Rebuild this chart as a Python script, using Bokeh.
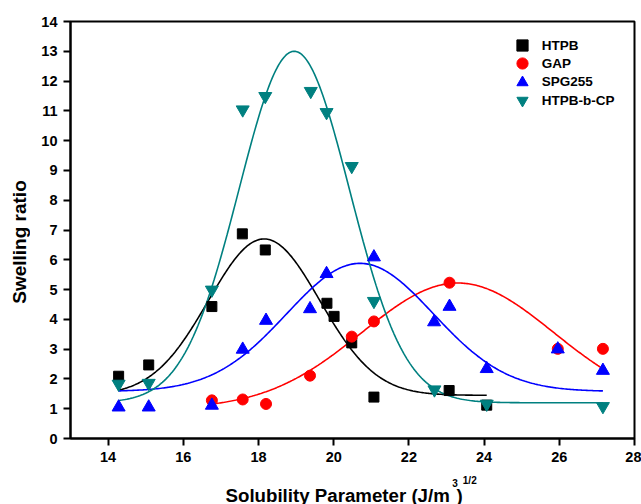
import numpy as np
from bokeh.plotting import figure
from bokeh.models import Range1d, Label, Legend, LegendItem
from bokeh.layouts import column, row
from bokeh.embed import file_html
from bokeh.resources import INLINE

# ---- data ----
htpb_x = [14.28, 15.08, 16.76, 17.57, 18.18, 19.82, 20.01, 20.48, 21.07, 23.07, 24.07]
htpb_y = [2.09, 2.47, 4.43, 6.87, 6.33, 4.54, 4.10, 3.21, 1.39, 1.61, 1.12]

gap_x = [16.76, 17.58, 18.20, 19.37, 20.48, 21.07, 23.08, 25.96, 27.16]
gap_y = [1.28, 1.31, 1.16, 2.11, 3.42, 3.93, 5.23, 3.01, 3.01]

spg_x = [14.28, 15.08, 16.76, 17.58, 18.20, 19.37, 19.81, 21.07, 22.67, 23.08, 24.07, 25.96, 27.16]
spg_y = [1.05, 1.05, 1.11, 2.99, 3.96, 4.35, 5.53, 6.09, 3.91, 4.43, 2.34, 3.00, 2.28]

cp_x = [14.28, 15.08, 16.76, 17.58, 18.18, 19.39, 19.81, 20.48, 21.07, 22.68, 24.07, 27.16]
cp_y = [1.83, 1.86, 4.99, 11.04, 11.49, 11.66, 10.95, 9.14, 4.61, 1.64, 1.16, 1.08]

# Gaussian fit parameters: y0, A, xc, sigma, x-start, x-end
htpb_fit = [1.45, 5.25, 18.15, 1.48, 14.28, 24.07]
gap_fit = [1.00, 4.22, 23.30, 2.55, 16.78, 27.16]
spg_fit = [1.58, 4.30, 20.70, 1.95, 14.28, 27.16]
cp_fit = [1.20, 11.80, 18.95, 1.47, 14.28, 27.16]

series_names = ["HTPB", "GAP", "SPG255", "HTPB-b-CP"]
x_ticks = [14, 16, 18, 20, 22, 24, 26, 28]
y_ticks = list(range(0, 15))

FONT = "Liberation Sans"


def gauss_curve(params):
    y0, a, xc, s, x0, x1 = params
    xs = np.linspace(x0, x1, 300)
    ys = y0 + a * np.exp(-((xs - xc) ** 2) / (2 * s * s))
    return xs, ys


def blank_fig(w, h):
    f = figure(width=w, height=h, output_backend="svg", toolbar_location=None,
               x_axis_location=None, y_axis_location=None,
               x_range=Range1d(0, 1), y_range=Range1d(0, 1), min_border=0)
    f.xgrid.visible = False
    f.ygrid.visible = False
    f.outline_line_color = None
    f.background_fill_color = "white"
    f.border_fill_color = "white"
    return f


# ---- main plot ----
p = figure(width=611, height=470, output_backend="svg", toolbar_location=None,
           x_range=Range1d(13, 28), y_range=Range1d(0, 14))
p.min_border_left = 40
p.min_border_right = 7
p.min_border_top = 21
p.min_border_bottom = 32

p.xgrid.visible = False
p.ygrid.visible = False
p.background_fill_color = "white"
p.border_fill_color = "white"
p.outline_line_color = "black"
p.outline_line_width = 2

for ax in (p.xaxis[0], p.yaxis[0]):
    ax.axis_line_width = 2
    ax.major_tick_line_width = 2
    ax.major_tick_out = 7
    ax.major_tick_in = 0
    ax.minor_tick_line_color = None
    ax.major_label_text_font = FONT
    ax.major_label_text_font_style = "bold"
    ax.major_label_text_font_size = "14.5px"
    ax.major_label_text_color = "black"
    ax.major_label_standoff = 6
p.xaxis.ticker = x_ticks
p.yaxis.ticker = y_ticks

colors = ["black", "#FF0000", "#0000FF", "#008080"]
fits = [htpb_fit, gap_fit, spg_fit, cp_fit]
xs_all = [htpb_x, gap_x, spg_x, cp_x]
ys_all = [htpb_y, gap_y, spg_y, cp_y]
markers = ["square", "circle", "triangle", "inverted_triangle"]
sizes = [10, 11, 13, 13]

for fit, c in zip(fits, colors):
    cx, cy = gauss_curve(fit)
    p.line(cx, cy, line_color=c, line_width=1.6)

legend_bottoms = [379, 360.7, 342.3, 324]
for name, xs, ys, c, m, s, lb in zip(series_names, xs_all, ys_all, colors, markers, sizes,
                                      legend_bottoms):
    r = p.scatter(xs, ys, marker=m, size=s, fill_color=c, line_color=c)
    lg = Legend(items=[LegendItem(label=name, renderers=[r])], location=(437.7, lb),
                glyph_width=28, glyph_height=28, label_height=18, spacing=0,
                padding=0, margin=0, label_standoff=6,
                label_text_font=FONT, label_text_font_style="bold",
                label_text_font_size="13.5px", label_text_color="black",
                border_line_color=None, background_fill_alpha=0)
    p.add_layout(lg)

# ---- y axis title strip (its frame lines up with the main frame: 21..438) ----
yfig = blank_fig(30, 470)
yfig.add_layout(Label(x=18.5, y=196.5, text="Swelling ratio", text_font_size="19px",
                      angle=np.pi / 2, text_align="center", text_baseline="middle",
                      x_units="screen", y_units="screen", text_font=FONT,
                      text_font_style="bold", text_color="black"))

# ---- x axis title strip (with superscripts) ----
xfig = blank_fig(641, 34)
common = dict(x_units="screen", y_units="screen", text_font=FONT,
              text_font_style="bold", text_color="black",
              text_align="left", text_baseline="alphabetic")
xfig.add_layout(Label(x=225, y=9.5, text="Solubility Parameter (J/m",
                      text_font_size="18.7px", **common))
xfig.add_layout(Label(x=451.7, y=21.5, text="3", text_font_size="10px", **common))
xfig.add_layout(Label(x=456, y=9.5, text=")", text_font_size="18.7px", **common))
xfig.add_layout(Label(x=462.3, y=24.5, text="1/2", text_font_size="10px", **common))

layout = column(row(yfig, p), xfig)
open("out.html", "w").write(file_html(layout, INLINE))
